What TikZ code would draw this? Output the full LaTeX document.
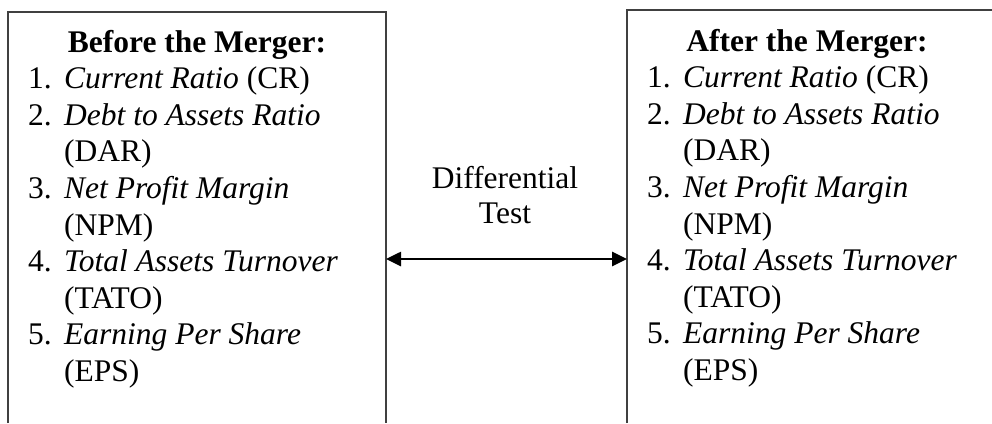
\documentclass[tikz,border=0pt]{standalone}
\usepackage{fontspec}
\setmainfont{Liberation Serif}
\usetikzlibrary{arrows.meta}

\tikzset{
  frame/.style={draw=black!75, line width=1.6pt},
  head/.style={anchor=base, inner sep=0pt, font=\fontsize{31.5}{36}\selectfont\bfseries},
  plain/.style={anchor=base, inner sep=0pt, font=\fontsize{31.5}{36}\selectfont},
  item/.style={anchor=base west, inner sep=0pt, font=\fontsize{31.5}{36}\selectfont},
  link/.style={line width=2.6pt, {Triangle[length=15pt,width=14pt]}-{Triangle[length=15pt,width=14pt]}}
}

\begin{document}
\begin{tikzpicture}[x=1pt,y=-1pt]
    \useasboundingbox (0,0) rectangle (992,423);

    % both frames run off the bottom of the page
    \draw [frame] (8,423) -- (8,12) -- (386,12) -- (386,423);
    \draw [frame] (627,423) -- (627,10) -- (992,10);

    % same list of ratios in each frame
    \foreach \nx/\hx/\by/\hd in {28/197/52/Before, 647/807/51/After}{
        \node [head] (\hd-head) at (\hx,\by) {\hd{} the Merger:};
        \foreach \num/\txt [count=\k] in {1./{\textit{Current Ratio} (CR)},
                                           2./{\textit{Debt to Assets Ratio}},
                                           /{(DAR)},
                                           3./{\textit{Net Profit Margin}},
                                           /{(NPM)},
                                           4./{\textit{Total Assets Turnover}},
                                           /{(TATO)},
                                           5./{\textit{Earning Per Share}},
                                           /{(EPS)}}{
            \node [item] (\hd-\k) at (\nx,\by+36.6*\k) {\makebox[36pt][l]{\num}\txt};
        }
    }

    % test between the two periods
    \node [plain] (diff) at (505,188) {Differential};
    \node [plain] (test) at (505,223) {Test};

    \coordinate (before) at (386,259);
    \coordinate (after) at (627,259);
    \draw [link] (before) -- (after);

\end{tikzpicture}
\end{document}
